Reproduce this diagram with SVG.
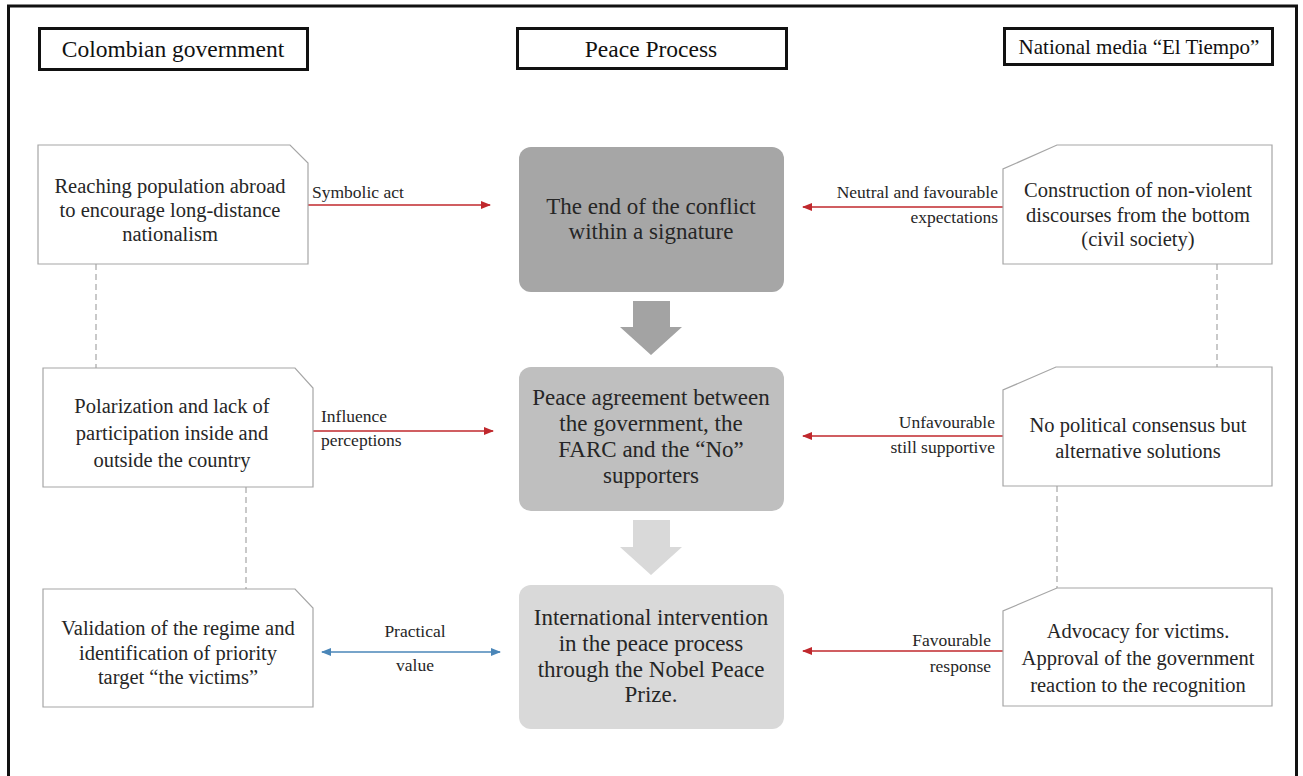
<svg xmlns="http://www.w3.org/2000/svg" width="1303" height="776" viewBox="0 0 1303 776" font-family="'Liberation Serif', 'DejaVu Serif', serif">
<style>
text{font-family:'Liberation Serif','DejaVu Serif',serif;fill:#262626}
.hdr{font-size:23.5px;text-anchor:middle;fill:#111}
.hbox{fill:#fff;stroke:#111;stroke-width:3}
.side{fill:#fff;stroke:#a6a6a6;stroke-width:1.2}
.st{font-size:20.5px;text-anchor:middle}
.ct{font-size:23px;text-anchor:middle}
.lbl{font-size:17.5px}
.red{stroke:#c0282d;stroke-width:1.3;fill:none}
.blue{stroke:#4a86b8;stroke-width:1.3;fill:none}
.dash{stroke:#a6a6a6;stroke-width:1.2;stroke-dasharray:6 4;fill:none}
</style>
<defs>
<marker id="ar" markerWidth="10" markerHeight="8" refX="9" refY="4" orient="auto" markerUnits="userSpaceOnUse"><path d="M0,0 L10,4 L0,8 Z" fill="#c0282d"/></marker>
<marker id="ab" markerWidth="10" markerHeight="8" refX="9" refY="4" orient="auto-start-reverse" markerUnits="userSpaceOnUse"><path d="M0,0 L10,4 L0,8 Z" fill="#4a86b8"/></marker>
</defs>
<rect x="0" y="0" width="1303" height="776" fill="#fff"/>
<rect x="8.5" y="6" width="1288" height="774" fill="none" stroke="#111" stroke-width="3"/>

<g id="hdr-gov"><rect class="hbox" x="39.5" y="28.5" width="268" height="41"/><text class="hdr" x="173" y="57">Colombian government</text></g>
<g id="hdr-peace"><rect class="hbox" x="517.5" y="28.5" width="269" height="40"/><text class="hdr" x="651" y="57">Peace Process</text></g>
<g id="hdr-media"><rect class="hbox" x="1004.5" y="28.5" width="268" height="36"/><text class="hdr" x="1139" y="54" style="font-size:21px">National media “El Tiempo”</text></g>

<g id="connectors">
<line class="dash" x1="96" y1="264" x2="96" y2="368"/>
<line class="dash" x1="246" y1="487" x2="246" y2="589"/>
<line class="dash" x1="1217" y1="264" x2="1217" y2="367"/>
<line class="dash" x1="1057" y1="486" x2="1057" y2="588"/>
<line class="red" x1="308" y1="205" x2="490" y2="205" marker-end="url(#ar)"/>
<line class="red" x1="313" y1="431" x2="493" y2="431" marker-end="url(#ar)"/>
<line class="blue" x1="322" y1="652" x2="500" y2="652" marker-start="url(#ab)" marker-end="url(#ab)"/>
<line class="red" x1="1003" y1="207" x2="803" y2="207" marker-end="url(#ar)"/>
<line class="red" x1="1003" y1="436" x2="803" y2="436" marker-end="url(#ar)"/>
<line class="red" x1="1003" y1="651" x2="803" y2="651" marker-end="url(#ar)"/>
<polygon points="633,301 670,301 670,327 682,327 651,355 620,327 633,327" fill="#a3a3a3"/>
<polygon points="633,520 670,520 670,547 682,547 651,575 620,547 633,547" fill="#d9d9d9"/>
<text class="lbl" x="312" y="198">Symbolic act</text>
<text class="lbl" x="321" y="422">Influence</text>
<text class="lbl" x="321" y="446">perceptions</text>
<text class="lbl" x="415" y="637" text-anchor="middle">Practical</text>
<text class="lbl" x="415" y="671" text-anchor="middle">value</text>
<text class="lbl" x="998" y="198" text-anchor="end">Neutral and favourable</text>
<text class="lbl" x="998" y="223" text-anchor="end">expectations</text>
<text class="lbl" x="995" y="428" text-anchor="end">Unfavourable</text>
<text class="lbl" x="995" y="453" text-anchor="end">still supportive</text>
<text class="lbl" x="991" y="646" text-anchor="end">Favourable</text>
<text class="lbl" x="991" y="672" text-anchor="end">response</text>
</g>

<g id="gov1"><path class="side" d="M38,145 H290 L308,163 V264 H38 Z"/>
<text class="st" x="170" y="193">Reaching population abroad</text>
<text class="st" x="170" y="217">to encourage long-distance</text>
<text class="st" x="170" y="241">nationalism</text></g>
<g id="gov2"><path class="side" d="M43,368 H295 L313,388 V487 H43 Z"/>
<text class="st" x="172" y="413">Polarization and lack of</text>
<text class="st" x="172" y="440">participation inside and</text>
<text class="st" x="172" y="467">outside the country</text></g>
<g id="gov3"><path class="side" d="M43,589 H295 L313,608 V707 H43 Z"/>
<text class="st" x="178" y="635">Validation of the regime and</text>
<text class="st" x="178" y="660">identification of priority</text>
<text class="st" x="178" y="684">target “the victims”</text></g>

<g id="pp1"><rect x="519" y="147" width="265" height="145" rx="12" fill="#a6a6a6"/>
<text class="ct" x="651" y="214">The end of the conflict</text>
<text class="ct" x="651" y="239">within a signature</text></g>
<g id="pp2"><rect x="519" y="367" width="265" height="144" rx="12" fill="#bfbfbf"/>
<text class="ct" x="651" y="405">Peace agreement between</text>
<text class="ct" x="651" y="431">the government, the</text>
<text class="ct" x="651" y="457">FARC and the “No”</text>
<text class="ct" x="651" y="483">supporters</text></g>
<g id="pp3"><rect x="519" y="585" width="265" height="144" rx="12" fill="#d9d9d9"/>
<text class="ct" x="651" y="625">International intervention</text>
<text class="ct" x="651" y="651">in the peace process</text>
<text class="ct" x="651" y="677">through the Nobel Peace</text>
<text class="ct" x="651" y="702">Prize.</text></g>

<g id="media1"><path class="side" d="M1057,145 H1272 V264 H1003 V169 Z"/>
<text class="st" x="1138" y="197">Construction of non-violent</text>
<text class="st" x="1138" y="222">discourses from the bottom</text>
<text class="st" x="1138" y="246">(civil society)</text></g>
<g id="media2"><path class="side" d="M1056,367 H1272 V486 H1003 V390 Z"/>
<text class="st" x="1138" y="432">No political consensus but</text>
<text class="st" x="1138" y="458">alternative solutions</text></g>
<g id="media3"><path class="side" d="M1057,588 H1272 V706 H1003 V611 Z"/>
<text class="st" x="1138" y="638">Advocacy for victims.</text>
<text class="st" x="1138" y="665">Approval of the government</text>
<text class="st" x="1138" y="692">reaction to the recognition</text></g>
</svg>
